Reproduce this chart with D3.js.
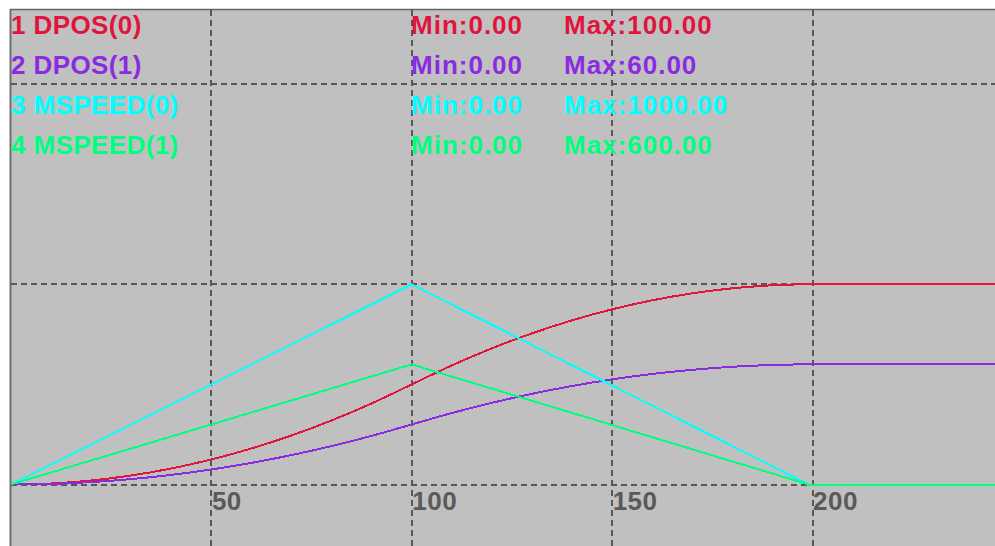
<!DOCTYPE html>
<html>
<head>
<meta charset="utf-8">
<script src="https://cdn.jsdelivr.net/npm/d3@7"></script>
<style>
  html, body { margin: 0; padding: 0; background: #ffffff; }
  svg { display: block; }
</style>
</head>
<body>
<svg id="chart" width="995" height="546"></svg>
<script>
// ---- data ----
const seriesNames = ["1 DPOS(0)", "2 DPOS(1)", "3 MSPEED(0)", "4 MSPEED(1)"];
const seriesMin   = ["Min:0.00", "Min:0.00", "Min:0.00", "Min:0.00"];
const seriesMax   = ["Max:100.00", "Max:60.00", "Max:1000.00", "Max:600.00"];
const seriesKind  = ["pos", "pos", "speed", "speed"];
const seriesColors = ["#e0143c", "#8a2be2", "#00ffff", "#00ff7f"];

const time = [0, 10, 20, 30, 40, 50, 60, 70, 80, 90, 100, 110, 120, 130, 140, 150,
              160, 170, 180, 190, 199, 210, 220, 230, 240, 246];
const dpos0 = [0, 0.5, 2, 4.5, 8, 12.5, 18, 24.5, 32, 40.5, 50, 59.5, 68, 75.5, 82, 87.5,
               92, 95.5, 98, 99.5, 100, 100, 100, 100, 100, 100];
const dpos1 = [0, 0.3, 1.2, 2.7, 4.8, 7.5, 10.8, 14.7, 19.2, 24.3, 30, 35.7, 40.8, 45.3, 49.2, 52.5,
               55.2, 57.3, 58.8, 59.7, 60, 60, 60, 60, 60, 60];
const mspeed0 = [0, 100, 200, 300, 400, 500, 600, 700, 800, 900, 1000, 899, 798, 697, 596, 495,
                 394, 293, 192, 91, 0, 0, 0, 0, 0, 0];
const mspeed1 = [0, 60, 120, 180, 240, 300, 360, 420, 480, 540, 600, 539, 479, 418, 358, 297,
                 236, 176, 115, 55, 0, 0, 0, 0, 0, 0];
const seriesValues = [dpos0, dpos1, mspeed0, mspeed1];

const xTicks = [50, 100, 150, 200];
const posGrid = [0, 100, 200];

// ---- layout ----
const svg = d3.select("#chart");
const W = 995, H = 546;
const plotLeft = 11, plotTop = 10;

const x = d3.scaleLinear().domain([0, 200]).range([11, 812.5]);
const yPos = d3.scaleLinear().domain([0, 100]).range([484.5, 284.3]);
const ySpeed = d3.scaleLinear().domain([0, 1000]).range([484.5, 284.3]);
const yOf = k => (k === "pos" ? yPos : ySpeed);

// background
svg.append("rect").attr("x", 0).attr("y", 0).attr("width", W).attr("height", H).attr("fill", "#ffffff");
svg.append("rect").attr("x", plotLeft).attr("y", plotTop).attr("width", W - plotLeft).attr("height", H - plotTop)
  .attr("fill", "#c0c0c0");
// frame (top and left)
svg.append("line").attr("x1", 10).attr("x2", W).attr("y1", 9.5).attr("y2", 9.5)
  .attr("stroke", "#646464").attr("stroke-width", 1.5);
svg.append("line").attr("x1", 10.5).attr("x2", 10.5).attr("y1", 9).attr("y2", H)
  .attr("stroke", "#6e6e6e").attr("stroke-width", 2);

// grid
const grid = svg.append("g").attr("stroke", "#585858").attr("stroke-width", 2)
  .attr("stroke-dasharray", "6,4").attr("shape-rendering", "crispEdges");
grid.selectAll("line.v").data(xTicks).join("line").attr("class", "v")
  .attr("x1", d => Math.round(x(d))).attr("x2", d => Math.round(x(d)))
  .attr("y1", plotTop).attr("y2", H);
grid.selectAll("line.h").data(posGrid).join("line").attr("class", "h")
  .attr("x1", plotLeft).attr("x2", W)
  .attr("y1", d => Math.round(yPos(d))).attr("y2", d => Math.round(yPos(d)));

// x tick labels
svg.append("g").selectAll("text").data(xTicks).join("text")
  .attr("x", d => x(d) + 0.5).attr("y", 510)
  .attr("font-family", "Liberation Sans, Arial, sans-serif").attr("font-size", 26)
  .attr("font-weight", "bold").attr("letter-spacing", 0.5)
  .attr("fill", "#5a5a5a").text(d => d);

// series lines
const lines = svg.append("g").attr("fill", "none").attr("stroke-width", 2)
  .attr("shape-rendering", "crispEdges");
seriesValues.forEach((vals, i) => {
  const ys = yOf(seriesKind[i]);
  const pts = time.map((t, j) => [t, vals[j]]);
  const curve = seriesKind[i] === "pos" ? d3.curveMonotoneX : d3.curveLinear;
  lines.append("path")
    .attr("d", d3.line().x(d => x(d[0])).y(d => ys(d[1])).curve(curve)(pts))
    .attr("stroke", seriesColors[i]);
});

// legend
const legend = svg.append("g").attr("font-family", "Liberation Sans, Arial, sans-serif")
  .attr("font-size", 26).attr("font-weight", "bold");
const rowY = i => 34 + i * 40;
seriesNames.forEach((name, i) => {
  legend.append("text").attr("x", 11).attr("y", rowY(i)).attr("letter-spacing", 0.4)
    .attr("fill", seriesColors[i]).text(name);
  legend.append("text").attr("x", 411).attr("y", rowY(i)).attr("letter-spacing", 1)
    .attr("fill", seriesColors[i]).text(seriesMin[i]);
  legend.append("text").attr("x", 564).attr("y", rowY(i)).attr("letter-spacing", 1)
    .attr("fill", seriesColors[i]).text(seriesMax[i]);
});
</script>
</body>
</html>
